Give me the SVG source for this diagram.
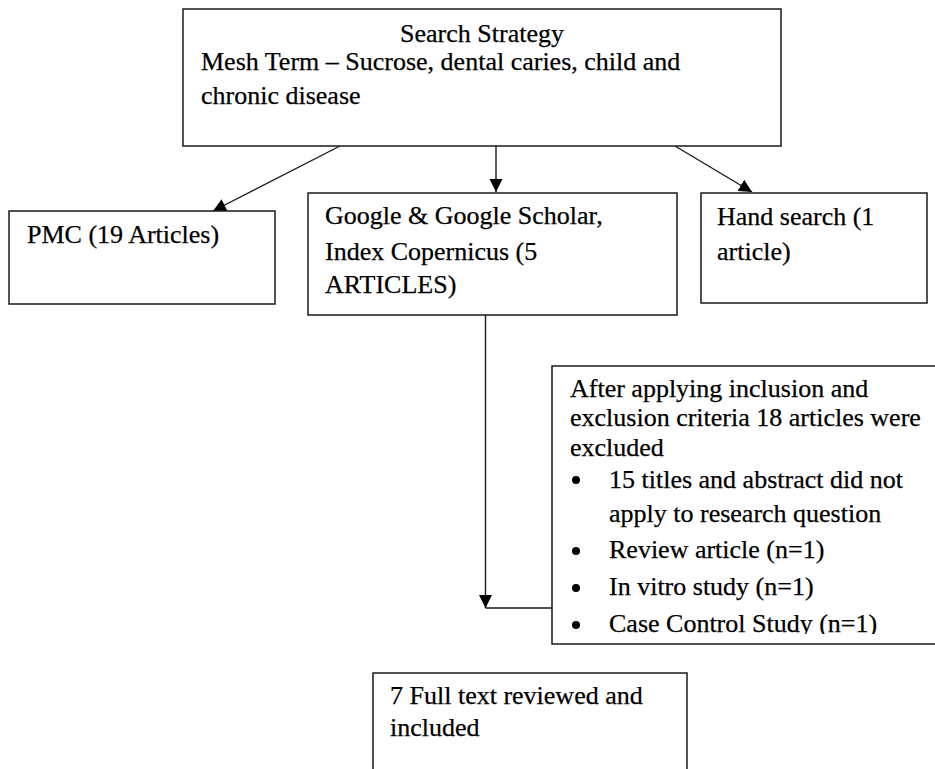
<svg xmlns="http://www.w3.org/2000/svg" width="935" height="769" viewBox="0 0 935 769">
  <style>
    .box { fill: #ffffff; stroke: #1a1a1a; stroke-width: 1.5; }
    .link { fill: none; stroke: #1a1a1a; stroke-width: 1.4; }
    .dot { fill: #000000; }
    text { font-family: "Liberation Serif", "Times New Roman", serif; font-size: 26px; fill: #000000; stroke: #000000; stroke-width: 0.25; }
  </style>
  <defs>
    <marker id="arrow" markerUnits="userSpaceOnUse" markerWidth="14" markerHeight="14" refX="13" refY="7" orient="auto">
      <path d="M0,0.5 L13,7 L0,13.5 Z" fill="#000000"/>
    </marker>
    <clipPath id="excl-clip">
      <rect x="552" y="366" width="383" height="268"/>
    </clipPath>
  </defs>
  <rect width="935" height="769" fill="#ffffff"/>

  <g id="connectors">
    <line class="link" x1="340" y1="146" x2="213" y2="211" marker-end="url(#arrow)"/>
    <line class="link" x1="496" y1="146" x2="496" y2="192" marker-end="url(#arrow)"/>
    <line class="link" x1="675" y1="146" x2="752" y2="192" marker-end="url(#arrow)"/>
    <polyline class="link" points="552,608 485.5,608"/>
    <line class="link" x1="485.5" y1="315" x2="485.5" y2="608" marker-end="url(#arrow)"/>
  </g>

  <g id="search-strategy">
    <rect class="box" x="183" y="9" width="598" height="137"/>
    <text x="482" y="42" text-anchor="middle">Search Strategy</text>
    <text x="201" y="70">Mesh Term – Sucrose, dental caries, child and</text>
    <text x="201" y="104">chronic disease</text>
  </g>

  <g id="pmc">
    <rect class="box" x="9" y="211" width="266" height="93"/>
    <text x="27" y="243">PMC (19 Articles)</text>
  </g>

  <g id="google">
    <rect class="box" x="308" y="193" width="369" height="122"/>
    <text x="325" y="224">Google &amp; Google Scholar,</text>
    <text x="325" y="260">Index Copernicus (5</text>
    <text x="325" y="293">ARTICLES)</text>
  </g>

  <g id="hand-search">
    <rect class="box" x="701" y="193" width="226" height="110"/>
    <text x="717" y="225">Hand search (1</text>
    <text x="717" y="260">article)</text>
  </g>

  <g id="exclusion">
    <rect class="box" x="552" y="366" width="390" height="278"/>
    <circle class="dot" cx="576" cy="480" r="4"/>
    <circle class="dot" cx="576" cy="551" r="4"/>
    <circle class="dot" cx="576" cy="588" r="4"/>
    <circle class="dot" cx="576" cy="625" r="4"/>
    <g clip-path="url(#excl-clip)">
      <text x="570" y="397">After applying inclusion and</text>
      <text x="570" y="426">exclusion criteria 18 articles were</text>
      <text x="570" y="456">excluded</text>
      <text x="609" y="488">15 titles and abstract did not</text>
      <text x="609" y="522">apply to research question</text>
      <text x="609" y="558">Review article (n=1)</text>
      <text x="609" y="595">In vitro study (n=1)</text>
      <text x="609" y="632">Case Control Study (n=1)</text>
    </g>
  </g>

  <g id="included">
    <rect class="box" x="373" y="673" width="314" height="110"/>
    <text x="390" y="704">7 Full text reviewed and</text>
    <text x="390" y="736">included</text>
  </g>
</svg>
